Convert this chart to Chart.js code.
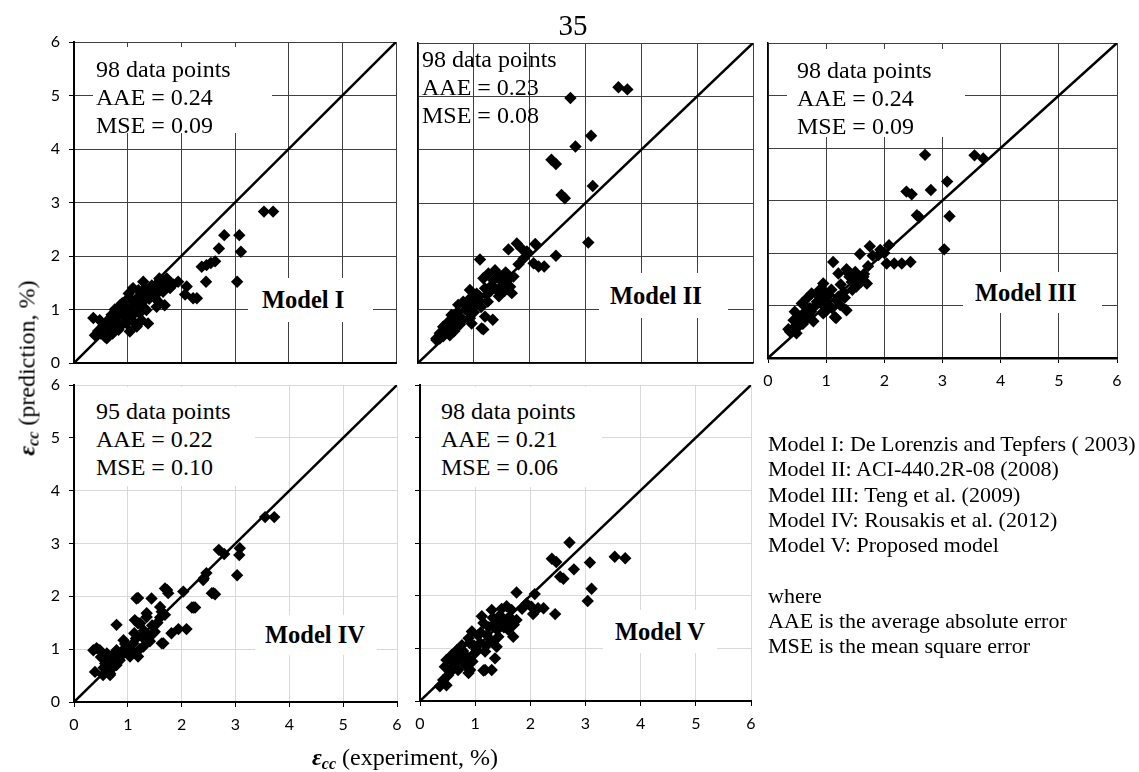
<!DOCTYPE html>
<html>
<head>
<meta charset="utf-8">
<script src="https://cdn.jsdelivr.net/npm/chart.js@4.4.1/dist/chart.umd.min.js"></script>
<style>
html,body{margin:0;padding:0;background:#fff;}
#page{position:relative;width:1139px;height:772px;overflow:hidden;background:#fff;font-family:"Liberation Serif","Times New Roman",serif;color:#000;}
#page canvas{position:absolute;left:0;top:0;}
.wbox{position:absolute;background:#fff;}
.stats{position:absolute;font-size:24px;line-height:28px;white-space:nowrap;}
.model{position:absolute;background:#fff;font-weight:bold;font-size:24.5px;display:flex;align-items:center;justify-content:flex-start;white-space:nowrap;box-sizing:border-box;}
#legendText{position:absolute;left:768px;top:431px;font-size:22px;line-height:25.3px;white-space:pre;}
#pageNo{position:absolute;left:533px;width:80px;text-align:center;top:11px;font-size:29px;line-height:29px;}
.atitle{position:absolute;font-size:24px;white-space:nowrap;transform:translate(-50%,-50%);}
.atitle sub{font-size:16px;vertical-align:-4px;line-height:0;}
</style>
</head>
<body>
<div id="page"></div>
<script>
// ---------- data ----------
const axisTicks = [0, 1, 2, 3, 4, 5, 6];
const modelNames = ['Model I', 'Model II', 'Model III', 'Model IV', 'Model V'];
const dataPointCounts = [98, 98, 98, 95, 98];
const aaeValues = ['0.24', '0.23', '0.24', '0.22', '0.21'];
const mseValues = ['0.09', '0.08', '0.09', '0.10', '0.06'];
const legendLines = [
  'Model I: De Lorenzis and Tepfers ( 2003)',
  'Model II: ACI-440.2R-08 (2008)',
  'Model III: Teng et al. (2009)',
  'Model IV: Rousakis et al. (2012)',
  'Model V: Proposed model',
  '',
  'where',
  'AAE is the average absolute error',
  'MSE is the mean square error'
];
const pageNumber = '35';
const xTitleText = '(experiment, %)';
const yTitleText = '(prediction, %)';

// Model I: experiment (x) and prediction (y)
const m1Exp = [3.54,3.71,2.80,3.08,3.11,2.70,3.04,2.46,2.38,2.47,2.55,2.63,2.22,2.29,2.10,2.07,1.94,1.29,1.73,1.60,1.59,1.79,1.79,1.66,1.60,1.69,1.51,1.41,1.20,1.10,1.04,1.26,1.35,1.38,1.17,1.26,0.86,0.92,0.79,0.73,0.67,0.58,0.39,0.36,0.48,0.61,0.98,1.07,1.04,0.83,1.54,1.20,0.61,1.45,1.15,0.95,0.70,0.55,0.50,0.80,1.00,1.12,1.30,1.47,1.85,1.70,0.90,1.22,0.76,0.65,0.45,1.55,1.10,0.88,1.33,1.62,1.02,0.72,0.95,1.08,1.18,0.84,0.62,1.40,1.28,0.98,0.74,1.52,1.66];
const m1Pred = [2.83,2.83,2.39,2.39,2.08,2.14,1.52,1.52,1.80,1.83,1.87,1.90,1.21,1.21,1.43,1.28,1.52,1.52,1.58,1.55,1.58,1.40,1.50,1.33,1.12,1.08,1.21,1.33,1.36,1.40,1.21,1.12,0.99,0.74,0.68,0.80,1.08,0.93,0.84,0.71,0.62,0.49,0.52,0.84,0.80,0.68,0.74,0.87,0.59,0.62,1.05,1.24,0.46,1.45,1.00,1.05,0.90,0.70,0.55,0.75,0.95,1.15,1.25,1.38,1.47,1.45,1.12,0.93,1.00,0.82,0.60,1.30,0.78,0.70,1.40,1.42,1.30,0.55,0.85,1.05,1.10,0.98,0.75,1.20,1.05,1.18,0.88,1.45,1.55];

// Model II
const m2Exp = [3.59,3.75,2.73,3.10,2.82,2.39,2.47,3.13,2.57,2.63,3.05,2.47,2.10,1.77,1.62,1.95,1.89,2.07,2.16,2.26,1.11,1.17,1.34,0.96,1.38,1.26,1.17,1.47,1.71,1.65,1.68,1.41,1.23,0.93,1.08,1.02,0.81,0.72,0.93,1.20,1.14,0.60,0.54,0.45,0.39,0.33,0.75,0.63,0.93,1.32,1.53,0.39,0.33,1.95,1.05,0.85,0.70,0.50,0.80,1.00,1.13,1.50,1.57,1.80,0.65,0.57,0.88,1.25,1.45,0.45,0.75,1.35,1.85,1.60,1.30,1.10,0.98,0.68,0.52,1.42,1.20,0.90,0.62,1.55];
const m2Pred = [5.17,5.13,4.97,4.26,4.06,3.81,3.73,3.32,3.15,3.09,2.26,2.01,2.23,2.24,2.13,2.09,1.96,1.87,1.81,1.81,1.94,0.63,0.81,0.74,1.74,1.68,1.59,1.62,1.62,1.43,1.31,1.37,1.28,1.37,1.18,1.05,1.15,1.09,0.84,0.87,0.65,0.90,0.77,0.68,0.56,0.46,0.87,0.74,1.21,1.46,1.52,0.46,0.43,2.06,1.30,1.00,0.95,0.62,0.80,0.95,1.05,1.45,1.70,1.85,0.60,0.52,1.10,1.15,1.25,0.50,0.72,1.55,2.15,1.55,1.35,1.25,1.15,0.82,0.58,1.60,1.40,0.98,0.66,1.35];

// Model III
const m3Exp = [2.70,3.55,3.70,3.08,2.80,2.38,2.47,2.56,2.60,3.12,3.03,2.45,2.04,2.17,2.30,2.08,1.75,1.58,1.93,1.12,1.17,1.35,1.21,1.50,1.64,1.70,1.44,0.95,0.89,1.09,1.21,0.75,0.67,0.58,0.84,1.35,1.15,0.95,0.46,0.44,0.55,0.35,0.38,0.72,0.61,1.04,1.24,1.52,0.49,0.95,1.80,1.90,1.65,0.80,0.70,1.00,1.30,0.60,0.52,1.10,1.40,1.55,0.85,0.65,1.25,1.72,1.00,0.78,1.45,2.00,1.18,0.90,0.62,1.32,1.60,1.05,0.74,0.48,1.38,0.98];
const m3Pred = [3.87,3.86,3.80,3.36,3.20,3.17,3.12,2.72,2.68,2.70,2.07,1.83,1.80,1.80,1.80,2.15,2.13,1.98,2.06,1.83,0.76,1.69,1.61,1.64,1.55,1.42,1.45,1.42,1.30,1.30,1.17,1.23,1.14,1.04,1.07,0.91,0.78,0.88,0.88,0.72,0.76,0.55,0.50,0.95,0.85,1.01,1.01,1.36,0.47,0.85,1.95,1.96,1.60,0.98,0.80,1.15,1.25,0.65,0.60,0.95,1.55,1.50,1.20,0.98,1.40,1.75,0.90,0.70,1.30,2.00,1.10,1.05,0.75,1.15,1.45,1.20,0.88,0.62,1.62,1.25];

// Model IV
const m4Exp = [3.55,3.72,2.69,2.79,3.08,3.07,3.03,2.41,2.46,2.56,2.62,2.03,2.19,2.25,1.94,2.09,1.81,1.66,1.69,1.75,1.16,1.44,0.79,1.35,1.60,1.13,1.23,1.47,0.36,0.48,0.39,0.67,2.40,2.59,1.73,1.19,2.22,1.63,1.69,1.35,1.19,1.50,1.35,1.26,1.63,0.92,1.10,0.98,0.79,0.42,0.61,0.70,1.04,1.19,0.85,0.58,0.79,0.54,0.67,0.92,1.29,1.41,1.60,0.55,0.75,1.00,1.15,0.62,0.88,1.08,1.30,1.45,0.50,0.72,1.55,1.22,0.95,0.66,1.38,1.05,0.82,0.60,1.12];
const m4Pred = [3.50,3.50,2.88,2.80,2.91,2.78,2.40,2.34,2.44,2.06,2.04,2.09,1.79,1.79,1.38,1.38,1.30,1.11,2.15,2.06,1.96,1.96,1.46,1.61,1.80,1.55,1.49,1.30,0.98,0.98,0.57,0.54,2.31,2.06,2.12,1.97,1.79,1.71,1.65,1.68,1.49,1.33,1.27,1.24,1.11,1.17,1.11,1.05,0.98,1.02,0.92,0.86,0.86,0.86,0.79,0.73,0.70,0.51,0.51,0.92,1.05,1.15,1.60,0.65,0.80,1.00,1.20,0.60,0.95,0.95,1.35,1.45,0.85,0.65,1.50,1.00,1.10,0.75,1.20,0.90,0.88,0.62,1.30];

// Model V
const m5Exp = [2.71,2.39,2.47,3.53,3.72,3.08,2.79,2.54,2.60,3.11,3.04,1.75,2.08,1.93,2.24,2.14,2.05,2.45,1.12,1.15,1.30,1.36,0.88,0.48,0.36,2.02,1.57,1.66,1.30,1.45,1.75,1.57,1.15,1.36,1.69,1.60,1.42,1.21,0.94,0.88,1.09,1.30,1.39,1.18,0.76,0.67,0.57,0.48,0.45,0.82,0.91,0.69,0.51,0.42,1.18,0.85,1.00,1.50,1.25,0.98,0.72,0.60,1.05,1.40,0.78,0.55,1.62,1.85,0.95,1.20,0.65,1.48,1.10,0.70,1.32,1.52,0.90,0.58,1.70,1.02];
const m5Pred = [3.01,2.70,2.64,2.74,2.71,2.63,2.50,2.36,2.32,2.13,1.90,2.06,2.03,1.85,1.76,1.76,1.65,1.65,1.61,0.58,0.59,0.81,0.53,0.30,0.28,1.79,1.80,1.73,1.73,1.63,1.54,1.48,1.48,1.48,1.22,1.35,1.22,1.25,1.32,1.19,1.10,1.13,1.03,0.94,1.06,0.97,0.87,0.78,0.65,0.68,0.59,0.59,0.49,0.40,0.59,0.84,0.91,1.55,1.40,1.05,0.80,0.72,1.25,1.35,0.95,0.55,1.60,1.75,0.75,1.05,0.85,1.75,1.30,0.88,1.58,1.40,1.10,0.62,1.45,0.98];

const modelExp = [m1Exp, m2Exp, m3Exp, m4Exp, m5Exp];
const modelPred = [m1Pred, m2Pred, m3Pred, m4Pred, m5Pred];

// ---------- layout (positions & styles only) ----------
const W = 1139, H = 772;
const panels = [
  {l:74, r:396, t:42, b:363, grid:'#404040', yLab:true, yTick:true, xLab:false, xTick:false, lb:2, bb:2,
   stats:{x:96,y:55}, box:{x:93,y:47,w:179,h:86}, mbox:{x:248,y:278,w:125,h:44,p:14}},
  {l:418, r:753, t:43, b:363, grid:'#404040', yLab:false, yTick:false, xLab:false, xTick:false, lb:1.5, bb:1.5,
   stats:{x:422,y:45}, box:null, mbox:{x:599,y:273,w:129,h:45,p:11}},
  {l:768, r:1117, t:43, b:358, grid:'#404040', yLab:false, yTick:false, xLab:true, xTick:true, lb:1.5, bb:2.5,
   stats:{x:797,y:56}, box:{x:787,y:49,w:178,h:88}, mbox:{x:963,y:272,w:139,h:41,p:12}},
  {l:74, r:397, t:385, b:702, grid:'#d9d9d9', yLab:true, yTick:true, xLab:true, xTick:true, lb:2, bb:2,
   stats:{x:96,y:397}, box:{x:76,y:387,w:179,h:99}, mbox:{x:255,y:615,w:122,h:40,p:10}},
  {l:420, r:751, t:385, b:701, grid:'#d9d9d9', yLab:false, yTick:true, xLab:true, xTick:true, lb:2, bb:2,
   stats:{x:441,y:397}, box:{x:422,y:387,w:180,h:100}, mbox:{x:603,y:610,w:114,h:43,p:12}}
];
const Y_W = 40, X_H = 30;
const tickFont = {family:'Lato, "Open Sans", sans-serif', size:16};

const page = document.getElementById('page');

panels.forEach((P, i) => {
  const cv = document.createElement('canvas');
  cv.width = W; cv.height = H;
  cv.style.width = W + 'px'; cv.style.height = H + 'px';
  page.appendChild(cv);

  const points = modelExp[i].map((x, k) => ({x: x, y: modelPred[i][k]}));
  new Chart(cv.getContext('2d'), {
    type: 'scatter',
    data: {
      datasets: [
        {label: modelNames[i], data: points, pointStyle: 'rectRot', pointRadius: 6.2,
         backgroundColor: '#000', borderWidth: 0, order: 0},
        {label: 'y = x', data: [{x: axisTicks[0], y: axisTicks[0]}, {x: axisTicks[axisTicks.length-1], y: axisTicks[axisTicks.length-1]}],
         showLine: true, borderColor: '#000', borderWidth: 2.5, pointRadius: 0, fill: false, order: 1}
      ]
    },
    options: {
      responsive: false,
      animation: false,
      devicePixelRatio: 1,
      layout: {padding: {left: P.l - Y_W, top: P.t, right: W - P.r, bottom: H - P.b - X_H}},
      plugins: {legend: {display: false}, tooltip: {enabled: false}},
      scales: {
        x: {
          type: 'linear', min: 0, max: 6,
          afterFit: s => { s.height = X_H; },
          afterBuildTicks: s => { s.ticks = axisTicks.map(v => ({value: v})); },
          ticks: {display: P.xLab, stepSize: 1, padding: 8, color: '#000', font: tickFont, maxRotation: 0, autoSkip: false},
          grid: {color: P.grid, lineWidth: 1, drawTicks: P.xTick, tickLength: 5, tickColor: '#000'},
          border: {display: true, color: '#000', width: P.bb}
        },
        y: {
          type: 'linear', min: 0, max: 6,
          afterFit: s => { s.width = Y_W; },
          afterBuildTicks: s => { s.ticks = axisTicks.map(v => ({value: v})); },
          ticks: {display: P.yLab, stepSize: 1, padding: 9, color: '#000', font: tickFont, autoSkip: false},
          grid: {color: P.grid, lineWidth: 1, drawTicks: P.yTick, tickLength: 5, tickColor: '#000'},
          border: {display: true, color: '#000', width: P.lb}
        }
      }
    }
  });

  if (P.box) {
    const b = document.createElement('div');
    b.className = 'wbox';
    Object.assign(b.style, {left: P.box.x + 'px', top: P.box.y + 'px', width: P.box.w + 'px', height: P.box.h + 'px'});
    page.appendChild(b);
  }
  const st = document.createElement('div');
  st.className = 'stats';
  st.style.left = P.stats.x + 'px'; st.style.top = P.stats.y + 'px';
  st.innerHTML = dataPointCounts[i] + ' data points<br>AAE = ' + aaeValues[i] + '<br>MSE = ' + mseValues[i];
  page.appendChild(st);

  const m = document.createElement('div');
  m.className = 'model';
  Object.assign(m.style, {left: P.mbox.x + 'px', top: P.mbox.y + 'px', width: P.mbox.w + 'px', height: P.mbox.h + 'px', paddingLeft: P.mbox.p + 'px'});
  m.textContent = modelNames[i];
  page.appendChild(m);
});

// legend text
const lg = document.createElement('div');
lg.id = 'legendText';
lg.textContent = legendLines.join('\n');
page.appendChild(lg);

// page number
const pn = document.createElement('div');
pn.id = 'pageNo';
pn.textContent = pageNumber;
page.appendChild(pn);

// axis titles
const xt = document.createElement('div');
xt.className = 'atitle';
xt.style.left = '405px'; xt.style.top = '757px';
xt.innerHTML = '<b><i>&epsilon;<sub>cc</sub></i></b> ' + xTitleText;
page.appendChild(xt);

const yt = document.createElement('div');
yt.className = 'atitle';
yt.style.left = '27px'; yt.style.top = '368px';
yt.style.transform = 'translate(-50%,-50%) rotate(-90deg)';
yt.innerHTML = '<b><i>&epsilon;<sub>cc</sub></i></b> ' + yTitleText;
page.appendChild(yt);
</script>
</body>
</html>
